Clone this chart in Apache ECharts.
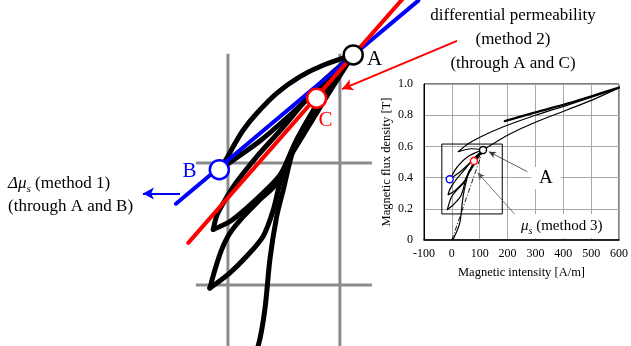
<!DOCTYPE html>
<html>
<head>
<meta charset="utf-8">
<script src="https://cdn.jsdelivr.net/npm/echarts@6/dist/echarts.min.js"></script>
<style>
html, body { margin: 0; padding: 0; background: #fff; }
#chart { width: 631px; height: 346px; }
</style>
</head>
<body>
<div id="chart"></div>
<script>
// points [H (A/m), B (T)]
const pointA = [111.9, 0.577]
const pointB = [-7.7, 0.389]
const pointC = [79.2, 0.506]

// minor loops, all share tip A
const loop1Down = [[111.9, 0.577], [85, 0.56], [64, 0.541], [43.5, 0.514], [25.6, 0.481], [13.7, 0.454], [4.8, 0.427], [-1.2, 0.407], [-7.7, 0.389]]
const loop1Up = [[-7.7, 0.389], [5, 0.405], [30, 0.438], [60, 0.486], [90, 0.537], [111.9, 0.577]]
const loop2Down = [[111.9, 0.577], [80, 0.525], [50, 0.46], [25.6, 0.41], [13.7, 0.383], [4.8, 0.361], [-4.2, 0.334], [-10.1, 0.313], [-13.1, 0.291]]
const loop2Up = [[-13.1, 0.291], [1.8, 0.304], [16.7, 0.326], [31.5, 0.351], [46.4, 0.38], [55.4, 0.41], [72, 0.46], [92, 0.52], [111.9, 0.577]]
const loop3Down = [[111.9, 0.577], [85, 0.51], [62, 0.44], [43.5, 0.367], [28.6, 0.34], [13.7, 0.312], [1.8, 0.285], [-5.6, 0.258], [-11.6, 0.225], [-16.1, 0.195]]
const loop3Up = [[-16.1, 0.195], [1.8, 0.22], [16.7, 0.247], [31.5, 0.28], [40.5, 0.323], [46.4, 0.367], [52.4, 0.4], [68, 0.46], [90, 0.525], [111.9, 0.577]]
const initialCurve = [[3, 0], [14, 0.04], [27, 0.1], [33, 0.16], [37.5, 0.242], [43.5, 0.312], [49.4, 0.356], [58.3, 0.421], [70, 0.465], [88, 0.52], [103, 0.557], [111.9, 0.577]]

// upper part of the loops (only in the small chart)
const majorUp = [[111.9, 0.577], [160, 0.63], [208, 0.68], [300, 0.755], [415, 0.835], [507, 0.9], [600, 0.975]]
const majorDown = [[600, 0.975], [507, 0.918], [415, 0.865], [300, 0.8], [185, 0.726], [104, 0.662], [60, 0.618], [23, 0.566], [70, 0.585], [111.9, 0.577]]
const upperLoop = [[190, 0.762], [300, 0.818], [415, 0.875], [507, 0.925], [600, 0.978]]

// straight lines through the points
const lineAB = [[-46.4, 0.333], [170, 0.666]]
const lineAC = [[-35.4, 0.269], [170, 0.698]]
const lineMu = [[0, 0], pointA]

// gray grid of the magnified view
const zoomGridH = [0, 100]
const zoomGridB = [0.2, 0.4]
const zoomGridHRange = [-28.6, 128.6]
const zoomGridBRange = [0.09, 0.579]

// box in the small chart
const insetBox = [[-36, 0.167], [181, 0.167], [181, 0.615], [-36, 0.615], [-36, 0.167]]

// small chart ticks
const insetXTicks = [-100, 600, 100]
const insetYTicks = [0, 1, 0.2]

// arrows
const arrowRed = [[204.6, 0.6], [101.9, 0.521]]
const arrowBlue = [[-42.8, 0.35], [-75.9, 0.35]]
const arrowA = [[271, 0.438], [133, 0.566]]
const arrowMu = [[225, 0.167], [92.6, 0.431]]

const serif = 'Liberation Serif'

function curve (data, axis, width, color, extra) {
  return Object.assign({
    type: 'line',
    xAxisIndex: axis,
    yAxisIndex: axis,
    data: data,
    symbol: 'none',
    smooth: 0.3,
    silent: true,
    lineStyle: { color: color || '#000', width: width, cap: 'round', join: 'round' }
  }, extra || {})
}

function arrow (pts, axis, color, width, size) {
  return {
    type: 'line',
    xAxisIndex: axis,
    yAxisIndex: axis,
    data: [],
    silent: true,
    markLine: {
      silent: true,
      symbol: ['none', 'arrow'],
      symbolSize: size,
      label: { show: false },
      lineStyle: { color: color, width: width, type: 'solid' },
      data: [[{ coord: pts[0] }, { coord: pts[1] }]]
    }
  }
}

function ring (color, width) {
  return { color: '#fff', borderColor: color, borderWidth: width, opacity: 1 }
}

const series = []

// magnified view
const grayLine = { smooth: false, lineStyle: { color: '#8c8c8c', width: 3 } }
zoomGridH.forEach(h => {
  series.push(curve([[h, zoomGridBRange[0]], [h, zoomGridBRange[1]]], 0, 3, '#8c8c8c', grayLine))
})
zoomGridB.forEach(b => {
  series.push(curve([[zoomGridHRange[0], b], [zoomGridHRange[1], b]], 0, 3, '#8c8c8c', grayLine))
})
;[loop1Down, loop1Up, loop2Down, loop2Up, loop3Down, loop3Up, initialCurve].forEach(d => {
  series.push(curve(d, 0, 5))
})
series.push(curve(lineAB, 0, 4, '#0000ff', { smooth: false }))
series.push(curve(lineAC, 0, 4, '#ff0000', { smooth: false }))
series.push(arrow(arrowRed, 0, '#ff0000', 2, [9, 11]))
series.push(arrow(arrowBlue, 0, '#0000ff', 2, [9, 11]))

const bigLabel = { show: true, fontFamily: serif, fontSize: 21 }
series.push({
  type: 'scatter',
  xAxisIndex: 0,
  yAxisIndex: 0,
  symbol: 'circle',
  symbolSize: 19,
  silent: true,
  z: 5,
  data: [
    { value: pointA, itemStyle: ring('#000', 2.5), label: Object.assign({ formatter: 'A', position: 'right', distance: 3, color: '#000', offset: [0, 5] }, bigLabel) },
    { value: pointB, itemStyle: ring('#0000ff', 2.5), label: Object.assign({ formatter: 'B', position: 'left', distance: 12, color: '#0000ff', offset: [0, 2] }, bigLabel) },
    { value: pointC, itemStyle: ring('#ff0000', 2.5), label: Object.assign({ formatter: 'C', position: 'bottom', distance: 1, color: '#ff0000', offset: [9, 0] }, bigLabel) }
  ]
})

// small chart
;[loop1Down, loop1Up, loop2Down, loop2Up, loop3Down, loop3Up, initialCurve, majorUp, majorDown].forEach(d => {
  series.push(curve(d, 1, 1.2))
})
series.push(curve(upperLoop, 1, 2.2))
series.push(curve(lineMu, 1, 0.9, '#000', { smooth: false, lineStyle: { color: '#000', width: 0.9, type: [5, 2, 1, 2] } }))
series.push(curve(insetBox, 1, 1, '#000', { smooth: false, lineStyle: { color: '#000', width: 1 } }))
series.push(arrow(arrowA, 1, '#333', 0.8, [5, 7]))
series.push(arrow(arrowMu, 1, '#555', 0.8, [5, 7]))
series.push({
  type: 'scatter',
  xAxisIndex: 1,
  yAxisIndex: 1,
  symbol: 'circle',
  symbolSize: 7,
  silent: true,
  z: 5,
  data: [
    { value: pointA, itemStyle: ring('#000', 1.4) },
    { value: pointB, itemStyle: ring('#0000ff', 1.4) },
    { value: pointC, itemStyle: ring('#ff0000', 1.4) }
  ]
})

const axisFont = { fontFamily: serif, fontSize: 12, color: '#000' }

const option = {
  animation: false,
  backgroundColor: '#fff',
  grid: [
    { left: 4, right: 0, top: 0, bottom: 0 },
    { left: 424, right: 4, top: 84, bottom: 106, show: true, borderColor: '#000', borderWidth: 1 }
  ],
  xAxis: [
    { type: 'value', gridIndex: 0, min: -200, max: 360, show: false },
    {
      type: 'value',
      gridIndex: 1,
      min: insetXTicks[0],
      max: insetXTicks[1],
      interval: insetXTicks[2],
      name: 'Magnetic intensity [A/m]',
      nameLocation: 'middle',
      nameGap: 26,
      nameTextStyle: { fontFamily: serif, fontSize: 12.5, color: '#000' },
      axisLine: { onZero: false, lineStyle: { color: '#000', width: 1.5 } },
      axisTick: { show: false },
      axisLabel: Object.assign({ margin: 8 }, axisFont),
      splitLine: { lineStyle: { color: '#a8a8a8', width: 1 } }
    }
  ],
  yAxis: [
    { type: 'value', gridIndex: 0, min: 0.1, max: 0.667, show: false },
    {
      type: 'value',
      gridIndex: 1,
      min: insetYTicks[0],
      max: insetYTicks[1],
      interval: insetYTicks[2],
      name: 'Magnetic flux density [T]',
      nameLocation: 'middle',
      nameGap: 31,
      nameTextStyle: { fontFamily: serif, fontSize: 12.5, color: '#000' },
      axisLine: { onZero: false, lineStyle: { color: '#000', width: 1 } },
      axisTick: { show: false },
      axisLabel: Object.assign({ margin: 11, formatter: v => v === 0 ? '0' : v.toFixed(1) }, axisFont),
      splitLine: { lineStyle: { color: '#a8a8a8', width: 1 } }
    }
  ],
  graphic: [
    {
      type: 'text',
      x: 513,
      y: 4,
      z: 10,
      style: {
        text: 'differential permeability\n(method 2)\n(through A and C)',
        fontFamily: serif,
        fontSize: 17,
        lineHeight: 24,
        fill: '#000',
        align: 'center',
        textAlign: 'center'
      }
    },
    {
      type: 'text',
      x: 8,
      y: 172,
      z: 10,
      style: {
        text: '{i|Δμ}{s|s}{n| (method 1)}\n{n|(through A and B)}',
        fill: '#000',
        rich: {
          i: { fontFamily: serif, fontSize: 17, fontStyle: 'italic', lineHeight: 23 },
          s: { fontFamily: serif, fontSize: 11, fontStyle: 'italic', lineHeight: 14, verticalAlign: 'bottom' },
          n: { fontFamily: serif, fontSize: 17, lineHeight: 23 }
        }
      }
    },
    {
      type: 'text',
      x: 531,
      y: 167,
      z: 10,
      style: {
        text: 'A',
        fontFamily: serif,
        fontSize: 19,
        fill: '#000',
        backgroundColor: '#fff',
        padding: [2, 8, 1, 8]
      }
    },
    {
      type: 'text',
      x: 518,
      y: 214,
      z: 10,
      style: {
        text: '{i|μ}{s|s}{n| (method 3)}',
        fill: '#000',
        backgroundColor: '#fff',
        padding: [2, 3, 2, 3],
        rich: {
          i: { fontFamily: serif, fontSize: 15, fontStyle: 'italic', lineHeight: 20 },
          s: { fontFamily: serif, fontSize: 10, fontStyle: 'italic', lineHeight: 12, verticalAlign: 'bottom' },
          n: { fontFamily: serif, fontSize: 15, lineHeight: 20 }
        }
      }
    }
  ],
  series: series
}

const chart = echarts.init(document.getElementById('chart'))
chart.setOption(option)
</script>
</body>
</html>
